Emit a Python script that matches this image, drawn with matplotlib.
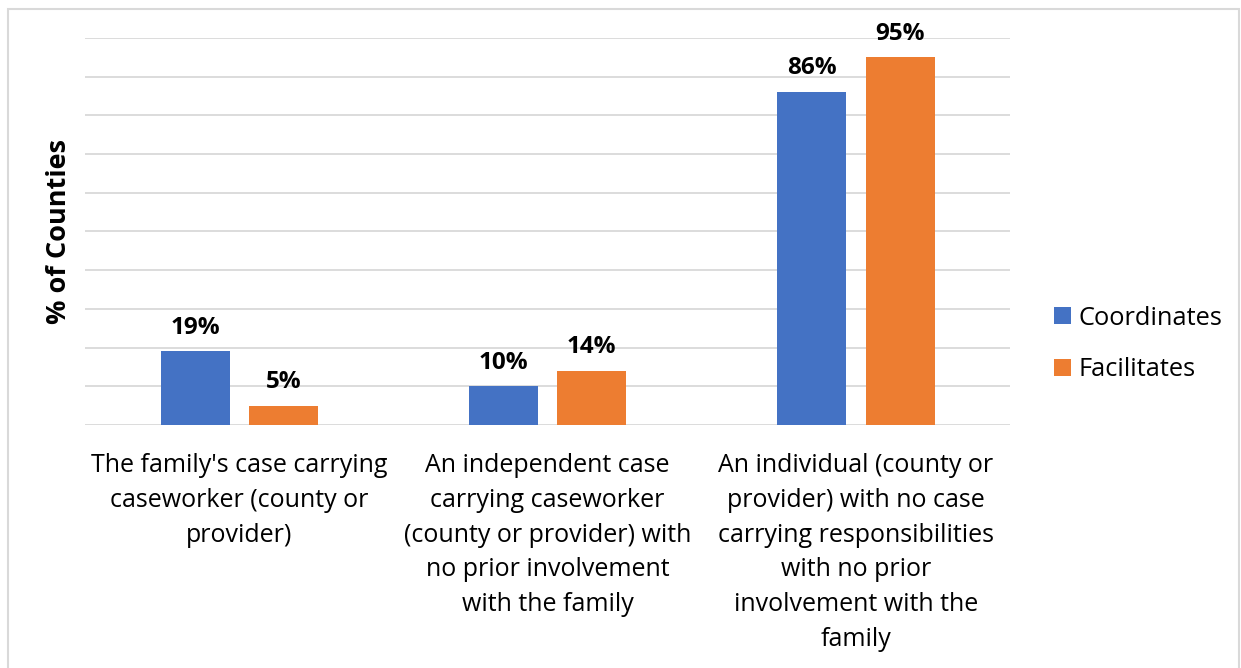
import matplotlib.pyplot as plt
import numpy as np
from matplotlib.patches import Rectangle

categories = [
    "The family's case carrying\ncaseworker (county or\nprovider)",
    "An independent case\ncarrying caseworker\n(county or provider) with\nno prior involvement\nwith the family",
    "An individual (county or\nprovider) with no case\ncarrying responsibilities\nwith no prior\ninvolvement with the\nfamily",
]
coordinates = [19, 10, 86]
facilitates = [5, 14, 95]
series_names = ["Coordinates", "Facilitates"]

plt.rcParams['font.family'] = ['Open Sans', 'DejaVu Sans']

fig = plt.figure(figsize=(12.41, 6.68), dpi=100)
ax = fig.add_axes([0.0685, 0.3638, 0.7455, 0.5795])

x = np.arange(len(categories))
w = 0.224
off = 0.143
b1 = ax.bar(x - off, coordinates, w, color='#4472c4', label=series_names[0], zorder=3)
b2 = ax.bar(x + off, facilitates, w, color='#ed7d31', label=series_names[1], zorder=3)

for bars, vals in ((b1, coordinates), (b2, facilitates)):
    for rect, v in zip(bars, vals):
        ax.text(rect.get_x() + rect.get_width() / 2, v + 3.0, f"{v}%",
                ha='center', va='bottom', fontsize=17.5, fontweight='bold')

ax.set_xlim(-0.5, 2.5)
ax.set_ylim(0, 100)
ax.set_yticks(np.arange(0, 101, 10))
ax.set_yticklabels([])
ax.tick_params(axis='y', length=0)
ax.grid(axis='y', color='#d9d9d9', linewidth=1.3, zorder=0)
ax.set_xticks(x)
ax.set_xticklabels(categories, fontsize=18, linespacing=1.52, va='top')
ax.tick_params(axis='x', length=0, pad=20)
for s in ax.spines.values():
    s.set_visible(False)

ax.set_ylabel("% of Counties", fontsize=19.5, fontweight='bold', labelpad=6)

fig.legend(handles=[b1, b2], loc='center left', bbox_to_anchor=(0.831, 0.485),
           frameon=False, fontsize=18.3, handlelength=0.65, handleheight=0.65,
           handletextpad=0.3, labelspacing=1.05)

fig.patches.append(Rectangle((8 / 1241, -0.1), 1231 / 1241, 0.1 + 1 - 9 / 668,
                             transform=fig.transFigure, fill=False,
                             edgecolor='#d9d9d9', linewidth=1.5))

fig.savefig('out.png', dpi=100)
